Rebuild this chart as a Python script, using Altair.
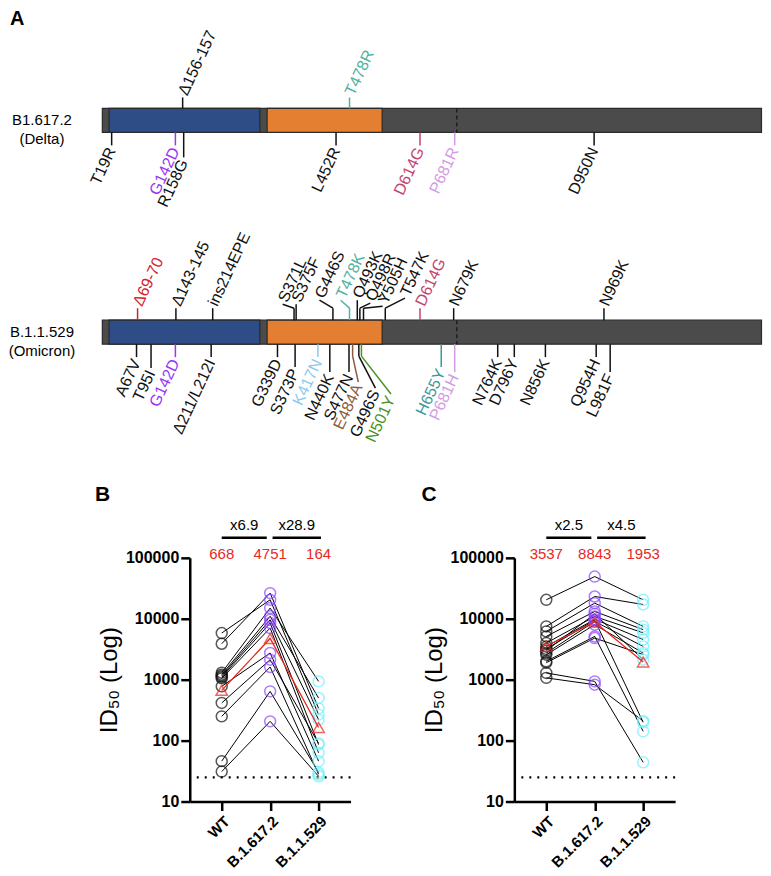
import altair as alt
import pandas as pd

FONT = "Liberation Sans"

# ---------------- Panel A: spike maps ----------------
SPIKE = [1, 1273]
NTD = [14, 305]
RBD = [319, 541]
S1S2 = 685
ROW_NAMES = ["B1.617.2\n(Delta)", "B.1.1.529\n(Omicron)"]

DELTA_MUT = ["Δ156-157", "T478R", "T19R", "G142D", "R158G", "L452R", "D614G", "P681R", "D950N"]
DELTA_POS = [156, 478, 19, 142, 158, 452, 614, 681, 950]
DELTA_SIDE = ["up", "up", "down", "down", "down", "down", "down", "down", "down"]
DELTA_COL = ["k", "teal", "k", "purple", "k", "k", "rasp", "lilac", "k"]

OMI_MUT = ["Δ69-70", "Δ143-145", "ins214EPE", "S371L", "S375F", "G446S", "T478K", "Q493K",
           "Q498R", "Y505H", "T547K", "D614G", "N679K", "N969K",
           "A67V", "T95I", "G142D", "Δ211/L212I", "G339D", "S373P", "K417N", "N440K", "S477N",
           "E484A", "G496S", "N501Y", "H655Y", "P681H", "N764K", "D796Y", "N856K", "Q954H", "L981F"]
OMI_POS = [69, 143, 214, 371, 375, 446, 478, 493, 498, 505, 547, 614, 679, 969,
           67, 95, 142, 211, 339, 373, 417, 440, 477, 484, 496, 501, 655, 681, 764, 796, 856, 954, 981]
OMI_SIDE = ["up"] * 14 + ["down"] * 19
OMI_COL = ["red", "k", "k", "k", "k", "k", "teal", "k", "k", "k", "k", "rasp", "k", "k",
           "k", "k", "purple", "k", "k", "k", "lblue", "k", "k", "brown", "k", "green", "teal2",
           "lilac", "k", "k", "k", "k", "k"]

# layout only: (straight stem px, label distance px, label anchor residue or None)
DELTA_LAYOUT = [(11, 11, None), (11, 11, None), (13, 13, None), (13, 13, None), (25, 25, None),
                (13, 13, None), (13, 13, None), (13, 13, None), (13, 13, None)]
OMI_LAYOUT = [(12, 12, None), (12, 12, None), (12, 12, None), (12, 16, 349), (16, 16, None),
              (12, 20, 420), (12, 20, 461), (20, 20, None), (12, 17, 518), (12, 14, 542),
              (12, 22, 585), (12, 12, None), (12, 12, None), (12, 12, None),
              (13, 13, None), (24, 24, None), (13, 13, None), (13, 13, None), (13, 13, None),
              (23, 23, None), (13, 13, None), (28, 28, None), (28, 28, None), (12, 38, 495),
              (12, 44, 528), (12, 50, 558), (23, 23, None), (28, 28, None), (13, 13, None),
              (13, 13, None), (13, 13, None), (13, 13, None), (28, 28, None)]

COLORS = {"k": "#111111", "teal": "#4FB3A0", "purple": "#9B35F5", "rasp": "#C2456E",
          "lilac": "#D49BE6", "red": "#D3222A", "lblue": "#8DC9EC", "brown": "#8E5B3E",
          "green": "#4B9123", "teal2": "#3C9A9A"}

A_W, A_H = 673, 390
ROW_Y = [104, 316]
HALF = 12
GAP = 3
ANG = 295

bars, dashes, segs, texts = [], [], [], []
for r, yc in enumerate(ROW_Y):
    bars.append(dict(x=SPIKE[0], x2=SPIKE[1], y=yc - HALF, y2=yc + HALF, fill="#4B4B4B"))
    bars.append(dict(x=NTD[0], x2=NTD[1], y=yc - HALF, y2=yc + HALF, fill="#2E4C86"))
    bars.append(dict(x=RBD[0], x2=RBD[1], y=yc - HALF, y2=yc + HALF, fill="#E47F32"))
    dashes.append(dict(x=S1S2, y=yc - HALF, y2=yc + HALF))

for r, (names, pos, sides, cols, lay) in enumerate([
        (DELTA_MUT, DELTA_POS, DELTA_SIDE, DELTA_COL, DELTA_LAYOUT),
        (OMI_MUT, OMI_POS, OMI_SIDE, OMI_COL, OMI_LAYOUT)]):
    yc = ROW_Y[r]
    for n, p, s, c, (stem, reach, lp) in zip(names, pos, sides, cols, lay):
        sg = -1 if s == "up" else 1
        edge = yc + sg * HALF
        lp = p if lp is None else lp
        col = COLORS[c]
        segs.append(dict(x=p, x2=p, y=edge, y2=edge + sg * stem, color=col))
        if lp != p or reach != stem:
            segs.append(dict(x=p, x2=lp, y=edge + sg * stem, y2=edge + sg * reach, color=col))
        texts.append(dict(x=lp, y=edge + sg * (reach + GAP), label=n, color=col, side=s))

bars = pd.DataFrame(bars)
dashes = pd.DataFrame(dashes)
segs = pd.DataFrame(segs)
texts = pd.DataFrame(texts)
rowlab = pd.DataFrame(dict(y=ROW_Y, name=ROW_NAMES))

xA = alt.Scale(domain=[-23, 1274], nice=False, zero=False)
yA = alt.Scale(domain=[0, A_H], reverse=True, nice=False, zero=False)
XA = lambda f: alt.X(f, scale=xA, axis=None)
YA = lambda f: alt.Y(f, scale=yA, axis=None)

barsL = alt.Chart(bars).mark_rect(stroke="#2A2A2A", strokeWidth=1.2).encode(
    x=XA("x:Q"), x2="x2:Q", y=YA("y:Q"), y2="y2:Q", fill=alt.Fill("fill:N", scale=None))
dashL = alt.Chart(dashes).mark_rule(color="#1E1E1E", strokeDash=[4, 3], strokeWidth=1.5).encode(
    x=XA("x:Q"), y=YA("y:Q"), y2="y2:Q")
segL = alt.Chart(segs).mark_rule(strokeWidth=1.5).encode(
    x=XA("x:Q"), x2="x2:Q", y=YA("y:Q"), y2="y2:Q", color=alt.Color("color:N", scale=None))
upL = alt.Chart(texts[texts.side == "up"]).mark_text(
    angle=ANG, align="left", baseline="middle", fontSize=16, font=FONT).encode(
    x=XA("x:Q"), y=YA("y:Q"), text="label:N", color=alt.Color("color:N", scale=None))
downL = alt.Chart(texts[texts.side == "down"]).mark_text(
    angle=ANG, align="right", baseline="middle", fontSize=16, font=FONT).encode(
    x=XA("x:Q"), y=YA("y:Q"), text="label:N", color=alt.Color("color:N", scale=None))
rowL = alt.Chart(rowlab).mark_text(
    align="center", baseline="middle", fontSize=15, font=FONT, color="black",
    lineBreak="\n", lineHeight=19).encode(x=alt.value(-48), y=YA("y:Q"), text="name:N")
letterA = alt.Chart(pd.DataFrame({"t": ["A"]})).mark_text(
    align="left", baseline="middle", fontSize=20, fontWeight="bold", font=FONT, color="black").encode(
    x=alt.value(-80), y=alt.value(2), text="t:N")

panelA = alt.layer(barsL, dashL, segL, upL, downL, rowL, letterA).properties(width=A_W, height=A_H)

# ---------------- Panels B and C: paired ID50 ----------------
CATS = ["WT", "B.1.617.2", "B.1.1.529"]
CAT_COLORS = ["#111111", "#8B46FF", "#6FF0FF"]
RED = "#E8281E"
LOD = 25

B_WT = [3890, 5830, 1300, 1210, 1150, 1100, 1050, 777, 415, 250, 46, 31]
B_DELTA = [26370, 20480, 14970, 11000, 9630, 8510, 7040, 2740, 2130, 1615, 643, 207]
B_OMI = [338, 267, 938, 500, 221, 86, 63, 46, 90, 28, 30, 26]
B_GMT = [668, 4751, 164]
B_FOLD = ["x6.9", "x28.9"]

C_WT = [20480, 7480, 6190, 5130, 3990, 3500, 3200, 2740, 2570, 2000, 1900, 1290, 1070, 3000]
C_DELTA = [49300, 23200, 18070, 13180, 10900, 9800, 9500, 9030, 8000, 5130, 4820, 938, 828, 12000]
C_OMI = [20480, 17150, 7480, 6640, 5880, 4570, 200, 3520, 2740, 142, 2590, 44, 210, 2130]
C_GMT = [3537, 8843, 1953]
C_FOLD = ["x2.5", "x4.5"]

FOLD_SPANS = [[0.0, 0.93], [1.05, 2.05]]

P_W, P_H = 161, 244


def panel(letter, series, gmt, folds, letter_x):
    rows = []
    for d in range(len(series[0])):
        for i, arr in enumerate(series):
            rows.append(dict(donor=d, xi=i, v=arr[d], grp=CATS[i]))
    df = pd.DataFrame(rows)
    gdf = pd.DataFrame(dict(xi=[0, 1, 2], v=gmt, lab=[str(g) for g in gmt]))
    fdf = pd.DataFrame(dict(a=[s[0] for s in FOLD_SPANS], b=[s[1] for s in FOLD_SPANS],
                            m=[(s[0] + s[1]) / 2 for s in FOLD_SPANS], lab=folds))
    ldf = pd.DataFrame(dict(v=[LOD]))

    xs = alt.Scale(domain=[-0.66, 2.66], nice=False, zero=False)
    xax = alt.Axis(values=[0, 1, 2], title=None,
                   labelExpr="[" + ",".join("'%s'" % c for c in CATS) + "][datum.value]",
                   labelAngle=315, labelAlign="right", labelBaseline="top", labelFontSize=15,
                   labelFontWeight="bold", labelFont=FONT, labelColor="black", labelPadding=3,
                   labelOverlap=False,
                   tickSize=9, tickWidth=2.5, tickColor="black", domainWidth=2.5,
                   domainColor="black", grid=False)
    ys = alt.Scale(type="log", domain=[10, 100000], nice=False)
    yax = alt.Axis(values=[10, 100, 1000, 10000, 100000], format="d", title="ID₅₀ (Log)",
                   titleFontSize=24, titleFontWeight="normal", titleFont=FONT, titleColor="black",
                   titlePadding=4, labelFontSize=16, labelFontWeight="bold", labelFont=FONT,
                   labelColor="black", labelPadding=2, labelOverlap=False,
                   tickSize=9, tickWidth=2.5,
                   tickColor="black", domainWidth=2.5, domainColor="black", grid=False)

    X = alt.X("xi:Q", scale=xs, axis=xax)
    Y = alt.Y("v:Q", scale=ys, axis=yax)

    lod = alt.Chart(ldf).mark_rule(color="black", strokeWidth=2.2, strokeDash=[2, 6]).encode(y=Y)
    lines = alt.Chart(df).mark_line(color="black", strokeWidth=1).encode(x=X, y=Y, detail="donor:N")
    pts = alt.Chart(df).mark_point(shape="circle", filled=False, size=120, strokeWidth=1.5).encode(
        x=X, y=Y, color=alt.Color("grp:N", scale=alt.Scale(domain=CATS, range=CAT_COLORS), legend=None))
    gline = alt.Chart(gdf).mark_line(color=RED, strokeWidth=1.3).encode(x=X, y=Y)
    gpts = alt.Chart(gdf).mark_point(shape="triangle-up", filled=False, size=130, strokeWidth=1.5,
                                     color=RED).encode(x=X, y=Y)
    frule = alt.Chart(fdf).mark_rule(color="black", strokeWidth=2.5).encode(
        x=alt.X("a:Q", scale=xs, axis=xax), x2="b:Q", y=alt.value(-20))
    ftext = alt.Chart(fdf).mark_text(fontSize=15, font=FONT, color="black", baseline="middle").encode(
        x=alt.X("m:Q", scale=xs, axis=xax), y=alt.value(-33), text="lab:N")
    gtext = alt.Chart(gdf).mark_text(fontSize=15, font=FONT, color=RED, baseline="middle").encode(
        x=X, y=alt.value(-4), text="lab:N")
    let = alt.Chart(pd.DataFrame({"t": [letter]})).mark_text(
        align="left", baseline="middle", fontSize=21, fontWeight="bold", font=FONT,
        color="black").encode(x=alt.value(letter_x), y=alt.value(-63), text="t:N")
    return alt.layer(lod, lines, pts, gline, gpts, frule, ftext, gtext, let).properties(
        width=P_W, height=P_H)


panelB = panel("B", [B_WT, B_DELTA, B_OMI], B_GMT, B_FOLD, -95)
panelC = panel("C", [C_WT, C_DELTA, C_OMI], C_GMT, C_FOLD, -93)

# empty 1px cell that only offsets panels B and C horizontally
spacer = alt.Chart(pd.DataFrame({"a": [0]})).mark_point(opacity=0, size=1).encode(
    x=alt.X("a:Q", axis=None), y=alt.Y("a:Q", axis=None)).properties(width=1, height=1)

bottom = alt.hconcat(spacer, alt.hconcat(panelB, panelC, spacing=69), spacing=4)

chart = alt.vconcat(panelA, bottom, spacing=39).properties(padding=0).configure_view(
    stroke=None).configure_axis(grid=False)

chart.save("out.html", embed_options={"renderer": "svg", "actions": False})
